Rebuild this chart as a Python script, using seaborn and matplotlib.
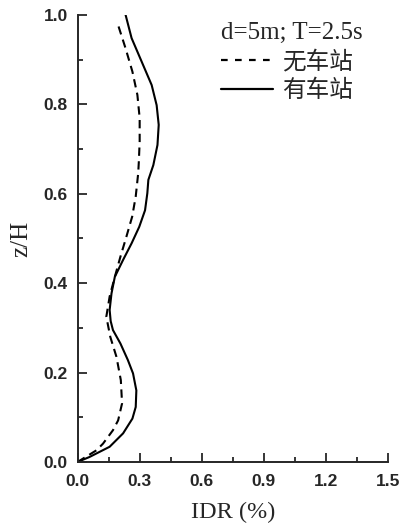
import matplotlib
matplotlib.use("Agg")
import matplotlib.pyplot as plt
import seaborn as sns
import pandas as pd
from matplotlib.ticker import MultipleLocator
from matplotlib.lines import Line2D

# Data
z_station = [0.0, 0.011, 0.034, 0.064, 0.097, 0.123, 0.16, 0.198, 0.228, 0.265, 0.295,
             0.315, 0.34, 0.377, 0.414, 0.452, 0.489, 0.526, 0.563, 0.601, 0.631, 0.664,
             0.709, 0.754, 0.798, 0.843, 0.895, 0.948, 1.0]
idr_station = [0.0, 0.057, 0.155, 0.22, 0.265, 0.281, 0.284, 0.268, 0.243, 0.207, 0.171,
               0.16, 0.155, 0.164, 0.18, 0.22, 0.261, 0.298, 0.326, 0.337, 0.342, 0.366,
               0.386, 0.392, 0.382, 0.358, 0.31, 0.261, 0.232]

z_free = [0.0, 0.026, 0.041, 0.071, 0.093, 0.131, 0.183, 0.235, 0.28, 0.325, 0.37,
          0.414, 0.459, 0.504, 0.549, 0.594, 0.646, 0.672, 0.717, 0.769, 0.821,
          0.873, 0.925, 0.977]
idr_free = [0.0, 0.091, 0.123, 0.171, 0.196, 0.215, 0.209, 0.188, 0.158, 0.139, 0.155,
            0.18, 0.207, 0.236, 0.264, 0.281, 0.293, 0.296, 0.3, 0.3, 0.289,
            0.265, 0.232, 0.196]

label_free = "无车站"
label_station = "有车站"
legend_title = "d=5m; T=2.5s"
x_label = "IDR (%)"
y_label = "z/H"

sns.set_style("ticks")
plt.rcParams['font.family'] = ['Liberation Sans', 'DejaVu Sans']

fig = plt.figure(figsize=(4.06, 5.31), dpi=100)
ax = fig.add_axes([0.191, 0.130, 0.765, 0.842])

df_free = pd.DataFrame({"IDR": idr_free, "z": z_free})
df_st = pd.DataFrame({"IDR": idr_station, "z": z_station})

dash = (0, (4, 2.6))
sns.lineplot(data=df_free, x="IDR", y="z", sort=False, estimator=None, ax=ax,
             color="black", lw=1.5, linestyle=dash)
sns.lineplot(data=df_st, x="IDR", y="z", sort=False, estimator=None, ax=ax,
             color="black", lw=1.5)

ax.set_xlim(0, 1.5)
ax.set_ylim(0, 1.0)
ax.xaxis.set_minor_locator(MultipleLocator(0.15))
ax.yaxis.set_minor_locator(MultipleLocator(0.1))
ax.tick_params(which="major", direction="in", length=6.5, width=1.3, labelsize=12.5)
ax.tick_params(axis="x", which="major", pad=9)
ax.tick_params(axis="y", which="major", pad=7)
ax.tick_params(which="minor", direction="in", length=3.5, width=1.3)
ax.set_xticks([0, 0.3, 0.6, 0.9, 1.2, 1.5])
ax.set_yticks([0, 0.2, 0.4, 0.6, 0.8, 1.0])
ax.set_xticklabels([f"{v:.1f}" for v in ax.get_xticks()], fontweight="bold")
ax.set_yticklabels([f"{v:.1f}" for v in ax.get_yticks()], fontweight="bold")

sns.despine(ax=ax)
for s in ["left", "bottom"]:
    ax.spines[s].set_linewidth(1.4)

ax.set_xlabel(x_label, family="Liberation Serif", fontsize=17.5, labelpad=9)
ax.set_ylabel(y_label, family="Liberation Serif", fontsize=18, labelpad=8)

handles = [Line2D([], [], color="black", lw=1.6, linestyle=(0, (3, 3.3))),
           Line2D([], [], color="black", lw=1.6)]
leg = ax.legend(handles, [label_free, label_station], title=legend_title,
                loc="upper left", bbox_to_anchor=(0.433, 1.005), frameon=False,
                handlelength=2.2, handletextpad=0.35, labelspacing=0.25,
                borderaxespad=0.0,
                prop={"family": ["Noto Sans CJK SC"], "size": 17},
                title_fontproperties={"family": "Liberation Serif", "size": 18},
                alignment="left")

fig.savefig("out.png", dpi=100)
